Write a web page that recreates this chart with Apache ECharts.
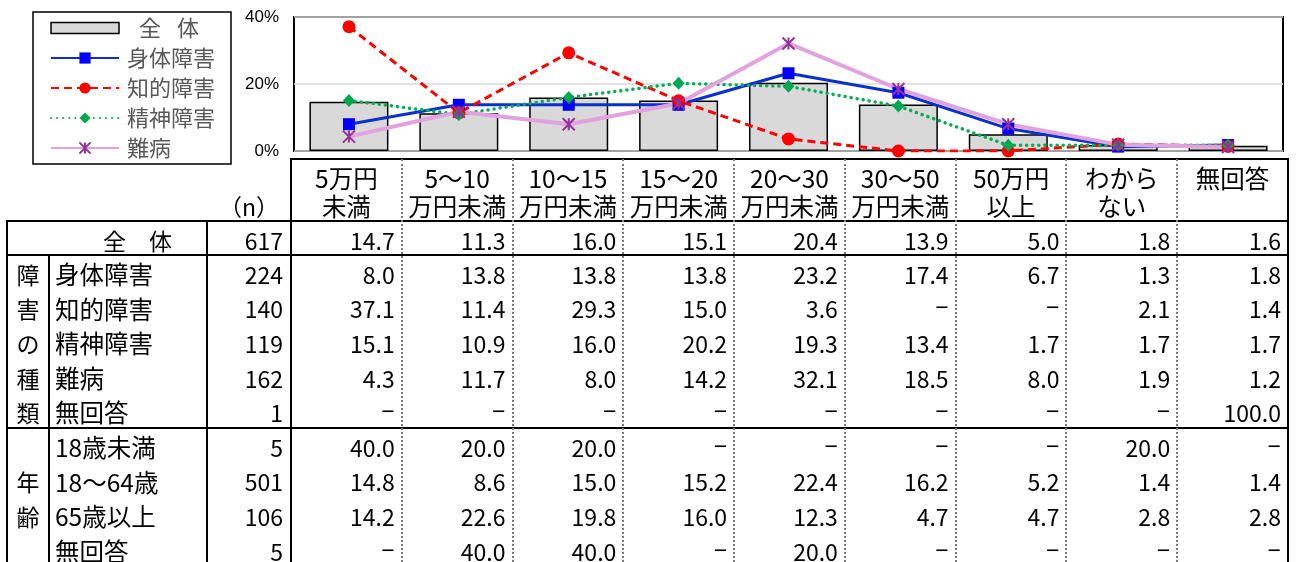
<!DOCTYPE html>
<html>
<head>
<meta charset="utf-8">
<script src="https://cdn.jsdelivr.net/npm/echarts@6/dist/echarts.min.js"></script>
<style>
  html, body { margin: 0; padding: 0; background: #fff; }
  #wrap { position: relative; width: 1297px; height: 562px; overflow: hidden; }
  #chart { position: absolute; left: 0; top: 0; width: 1297px; height: 562px; }
  #table { position: absolute; left: 0; top: 0; width: 1297px; height: 562px;
           font-family: "Noto Sans CJK JP", sans-serif; font-size: 23px; color: #000; pointer-events: none; }
  .t { position: absolute; white-space: pre; line-height: 1; }
  .lab { font-size: 24.5px; }
  .dash { font-family: "Liberation Sans", Arial, sans-serif; margin-top: -1px; }
  .ln { position: absolute; background: #000; }
  .dt { position: absolute; width: 0; border-left: 2px dotted #7a7a7a; }
</style>
</head>
<body>
<div id="wrap">
  <div id="chart"></div>
  <div id="table"></div>
</div>
<script>
// Income brackets (column headers, also the chart categories)
const categories = ['5万円\n未満', '5～10\n万円未満', '10～15\n万円未満', '15～20\n万円未満',
                    '20～30\n万円未満', '30～50\n万円未満', '50万円\n以上', 'わから\nない', '無回答'];

// Percentages by row; null is shown as a dash
const total        = [14.7, 11.3, 16.0, 15.1, 20.4, 13.9, 5.0, 1.8, 1.6];
const physical     = [8.0, 13.8, 13.8, 13.8, 23.2, 17.4, 6.7, 1.3, 1.8];
const intellectual = [37.1, 11.4, 29.3, 15.0, 3.6, null, null, 2.1, 1.4];
const mental       = [15.1, 10.9, 16.0, 20.2, 19.3, 13.4, 1.7, 1.7, 1.7];
const intractable  = [4.3, 11.7, 8.0, 14.2, 32.1, 18.5, 8.0, 1.9, 1.2];
const typeNoAnswer = [null, null, null, null, null, null, null, null, 100.0];
const under18      = [40.0, 20.0, 20.0, null, null, null, null, 20.0, null];
const age18to64    = [14.8, 8.6, 15.0, 15.2, 22.4, 16.2, 5.2, 1.4, 1.4];
const age65plus    = [14.2, 22.6, 19.8, 16.0, 12.3, 4.7, 4.7, 2.8, 2.8];
const ageNoAnswer  = [null, 40.0, 40.0, null, 20.0, null, null, null, null];

// Row labels and respondent counts
const rowLabels = ['全　体', '身体障害', '知的障害', '精神障害', '難病', '無回答',
                   '18歳未満', '18～64歳', '65歳以上', '無回答'];
const rowN = [617, 224, 140, 119, 162, 1, 5, 501, 106, 5];
const rowValues = [total, physical, intellectual, mental, intractable, typeNoAnswer,
                   under18, age18to64, age65plus, ageNoAnswer];

// Vertical group captions: one character per row
const groupCaptions = [
  { chars: ['障', '害', 'の', '種', '類'], rows: [1, 2, 3, 4, 5] },
  { chars: ['年', '齢'], rows: [7, 8] }
];

const nHeader = '（n）';
const dash = '−';

// Chart series names and y axis ticks
const seriesNames = ['全体', '身体障害', '知的障害', '精神障害', '難病'];
const yTickLabels = ['0%', '20%', '40%'];
const yMax = 40, yStep = 20;

const asChart = arr => arr.map(v => (v === null ? 0 : v));

const chart = echarts.init(document.getElementById('chart'), null, { renderer: 'canvas' });

const xMark = 'path://M0,0L12,12M12,0L0,12M6,0L6,12';
const legendFont = '"Noto Sans CJK JP", sans-serif';

chart.setOption({
  animation: false,
  backgroundColor: '#fff',
  grid: { left: 294, top: 17, width: 989, height: 134, show: true,
          borderColor: '#000', borderWidth: 2, backgroundColor: 'transparent' },
  xAxis: {
    type: 'category', data: categories, boundaryGap: true,
    axisLine: { show: false }, axisTick: { show: false }, axisLabel: { show: false },
    splitLine: { show: false }
  },
  yAxis: {
    type: 'value', min: 0, max: yMax, interval: yStep,
    axisLine: { show: false }, axisTick: { show: false },
    axisLabel: {
      margin: 15, color: '#000', fontSize: 17,
      fontFamily: '"Liberation Sans Narrow", "Liberation Sans", Arial, sans-serif',
      formatter: v => yTickLabels[Math.round(v / yStep)]
    },
    splitLine: { show: true, lineStyle: { color: '#d9d9d9', width: 1.5 } }
  },
  legend: {
    orient: 'vertical', left: 50, top: 17, padding: 0,
    itemWidth: 68, itemHeight: 14, itemGap: 8,
    selectedMode: false,
    textStyle: {
      fontFamily: legendFont, fontSize: 22, color: '#595959', lineHeight: 22, padding: [0, 0, 0, 3],
      rich: {
        g: { fontFamily: legendFont, fontSize: 22, color: '#595959', lineHeight: 22, padding: [0, 0, 0, 12] },
        h: { fontFamily: legendFont, fontSize: 22, color: '#595959', lineHeight: 22, padding: [0, 0, 0, 16] }
      }
    },
    formatter: n => (n === '全体' ? '{g|全}{h|体}' : n),
    data: [
      { name: seriesNames[0], icon: 'path://M0,0H63V10H0Z',
        itemStyle: { color: '#d9d9d9', borderColor: '#000', borderWidth: 1.5 } },
      seriesNames[1], seriesNames[2], seriesNames[3], seriesNames[4]
    ]
  },
  graphic: [{
    type: 'rect', shape: { x: 33, y: 12, width: 198, height: 152 },
    style: { fill: 'none', stroke: '#000', lineWidth: 1.5 }, silent: true
  }],
  series: [
    {
      name: seriesNames[0], type: 'bar', data: total, barWidth: 79,
      itemStyle: { color: '#d9d9d9', borderColor: '#000', borderWidth: 1.5 }
    },
    {
      name: seriesNames[1], type: 'line', data: asChart(physical),
      symbol: 'rect', symbolSize: 12,
      lineStyle: { color: '#0a30d0', width: 3 },
      itemStyle: { color: '#0000ff' }
    },
    {
      name: seriesNames[2], type: 'line', data: asChart(intellectual),
      symbol: 'circle', symbolSize: 13,
      lineStyle: { color: '#ff0000', width: 3, type: [8, 5] },
      itemStyle: { color: '#ff0000' }
    },
    {
      name: seriesNames[3], type: 'line', data: asChart(mental),
      symbol: 'diamond', symbolSize: [12, 13],
      lineStyle: { color: '#00b050', width: 3.5, type: [0.1, 6], cap: 'round' },
      itemStyle: { color: '#00a84f' }
    },
    {
      name: seriesNames[4], type: 'line', data: asChart(intractable),
      symbol: xMark, symbolSize: 12, symbolKeepAspect: true,
      lineStyle: { color: '#e2a2e0', width: 4 },
      itemStyle: { color: 'rgba(0,0,0,0)', borderColor: '#96309a', borderWidth: 2 }
    }
  ]
});

// ---- Data table under the chart ----
const tbl = document.getElementById('table');
function addText(txt, style, cls) {
  const d = document.createElement('div');
  d.className = 't' + (cls ? ' ' + cls : '');
  d.textContent = txt;
  Object.assign(d.style, style);
  tbl.appendChild(d);
  return d;
}
function hLine(x1, x2, y) {
  const d = document.createElement('div');
  d.className = 'ln';
  Object.assign(d.style, { left: x1 + 'px', top: (y - 1) + 'px', width: (x2 - x1) + 'px', height: '2px' });
  tbl.appendChild(d);
}
function vLine(x, y1, y2, dotted) {
  const d = document.createElement('div');
  d.className = dotted ? 'dt' : 'ln';
  const st = { left: (x - 1) + 'px', top: y1 + 'px', height: (y2 - y1) + 'px' };
  if (!dotted) st.width = '2px';
  Object.assign(d.style, st);
  tbl.appendChild(d);
}

const tableLeft = 7, groupRight = 49, labelRight = 207, nRight = 291, tableRight = 1288;
const headTop = 159, headBottom = 221, firstRowBottom = 255, rowH = 34.6;
const colW = (tableRight - nRight) / categories.length;
const colLeft = i => nRight + i * colW;
const rowTop = r => (r === 0 ? headBottom : firstRowBottom + (r - 1) * rowH);
const rowHeight = r => (r === 0 ? firstRowBottom - headBottom : rowH);
const textTop = (r, fs) => rowTop(r) + rowHeight(r) / 2 - fs / 2 + 2;

// header cells
categories.forEach((c, i) => {
  addText(c, { left: colLeft(i) + 'px', width: colW + 'px', top: '164px',
               textAlign: 'center', lineHeight: '28px' }, 'lab');
});
addText(nHeader, { left: labelRight + 'px', width: (nRight - labelRight) + 'px',
                   top: (206 - 11.5) + 'px', textAlign: 'center' });

// body rows
rowLabels.forEach((lab, r) => {
  const y = textTop(r, 23);
  if (r === 0) {
    addText(lab, { left: '103px', top: y + 'px' });
  } else {
    addText(lab, { left: '55px', top: textTop(r, 24.5) + 'px' }, 'lab');
  }
  addText(String(rowN[r]), { left: labelRight + 'px', width: (nRight - labelRight - 8) + 'px',
                             top: y + 'px', textAlign: 'right' });
  rowValues[r].forEach((v, i) => {
    addText(v === null ? dash : v.toFixed(1),
            { left: colLeft(i) + 'px', width: (colW - 7) + 'px', top: y + 'px', textAlign: 'right' },
            v === null ? 'dash' : '');
  });
});
groupCaptions.forEach(g => {
  g.chars.forEach((ch, k) => {
    addText(ch, { left: tableLeft + 'px', width: (groupRight - tableLeft) + 'px',
                  top: textTop(g.rows[k], 23) + 'px', textAlign: 'center' });
  });
});

// rules
hLine(nRight - 1, tableRight + 1, headTop);
hLine(tableLeft - 1, tableRight + 1, headBottom);
hLine(tableLeft - 1, tableRight + 1, firstRowBottom);
hLine(tableLeft - 1, tableRight + 1, rowTop(6));
vLine(tableLeft, headBottom, 562);
vLine(groupRight, firstRowBottom, 562);
vLine(labelRight, headBottom, 562);
vLine(nRight, headTop, 562);
vLine(tableRight, headTop, 562);
for (let i = 1; i < categories.length; i++) vLine(Math.round(colLeft(i)), headTop, 562, true);
</script>
</body>
</html>
